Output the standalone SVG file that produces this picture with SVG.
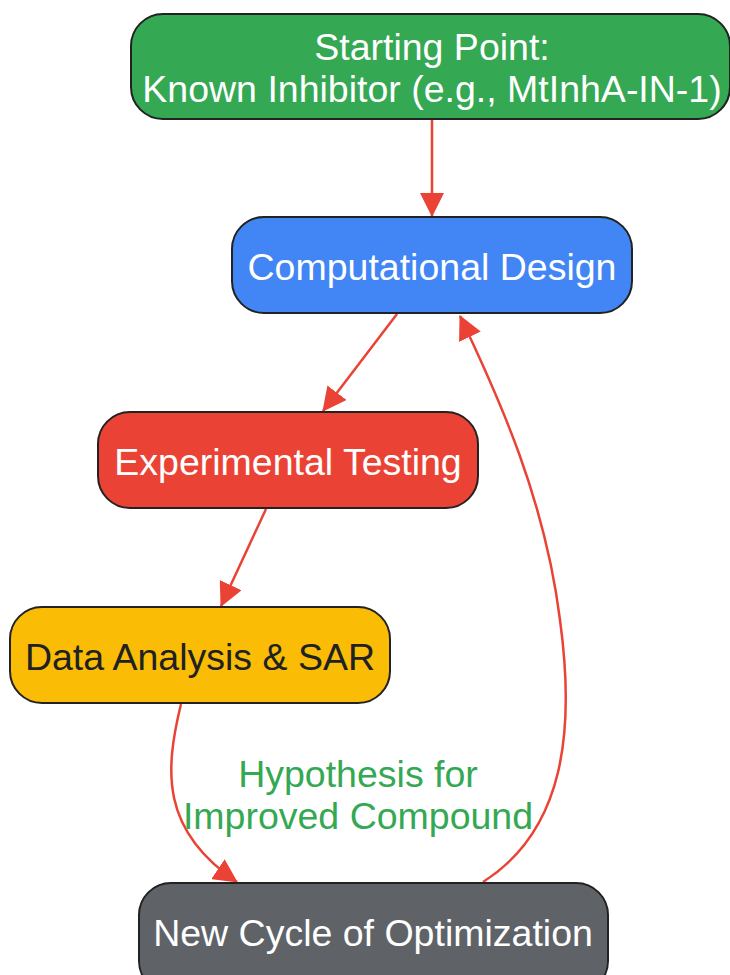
<svg xmlns="http://www.w3.org/2000/svg" width="730" height="975" viewBox="0 0 730 975">
<defs>
<style>
.node rect{stroke:#222;stroke-width:2}
.t{font-family:"Liberation Sans",Arial,sans-serif;font-size:37.5px;text-anchor:middle;fill:#fff}
.edge{fill:none;stroke:#EA4335;stroke-width:2.5}
.lbl{font-family:"Liberation Sans",Arial,sans-serif;font-size:37.5px;text-anchor:middle;fill:#34A853}
</style>
<marker id="a" viewBox="0 0 24 24" refX="23" refY="12" markerWidth="24" markerHeight="24" orient="auto" markerUnits="userSpaceOnUse">
<path d="M0,0 L24,12 L0,24 z" fill="#EA4335"/>
</marker>
</defs>
<rect width="730" height="975" fill="#fff"/>
<g id="edges">
<path class="edge" d="M432,119 L432,216" marker-end="url(#a)"/>
<path class="edge" d="M397,314 L323,411" marker-end="url(#a)"/>
<path class="edge" d="M266,509 L221,606" marker-end="url(#a)"/>
<path class="edge" d="M181,704 C165,770 160,830 237,882" marker-end="url(#a)"/>
<path class="edge" d="M483,882 C565,830 575,730 560,620 C545,500 500,400 460,316" marker-end="url(#a)"/>
</g>
<g id="n1" class="node"><rect x="131" y="14" width="599" height="105" rx="32" fill="#34A853"/>
<text class="t" x="432" y="60">Starting Point:</text><text class="t" x="432" y="102">Known Inhibitor (e.g., MtInhA-IN-1)</text></g>
<g id="n2" class="node"><rect x="232" y="217" width="400" height="96" rx="32" fill="#4285F4"/>
<text class="t" x="432" y="280">Computational Design</text></g>
<g id="n3" class="node"><rect x="98" y="412" width="380" height="96" rx="32" fill="#EA4335"/>
<text class="t" x="288" y="475">Experimental Testing</text></g>
<g id="n4" class="node"><rect x="10" y="607" width="380" height="96" rx="32" fill="#FBBC05"/>
<text class="t" x="200" y="670" style="fill:#202124">Data Analysis &amp; SAR</text></g>
<g id="n5" class="node"><rect x="139" y="883" width="469" height="110" rx="32" fill="#5F6368"/>
<text class="t" x="373" y="946">New Cycle of Optimization</text></g>
<g id="label"><text class="lbl" x="358" y="787">Hypothesis for</text><text class="lbl" x="358" y="829">Improved Compound</text></g>
</svg>
